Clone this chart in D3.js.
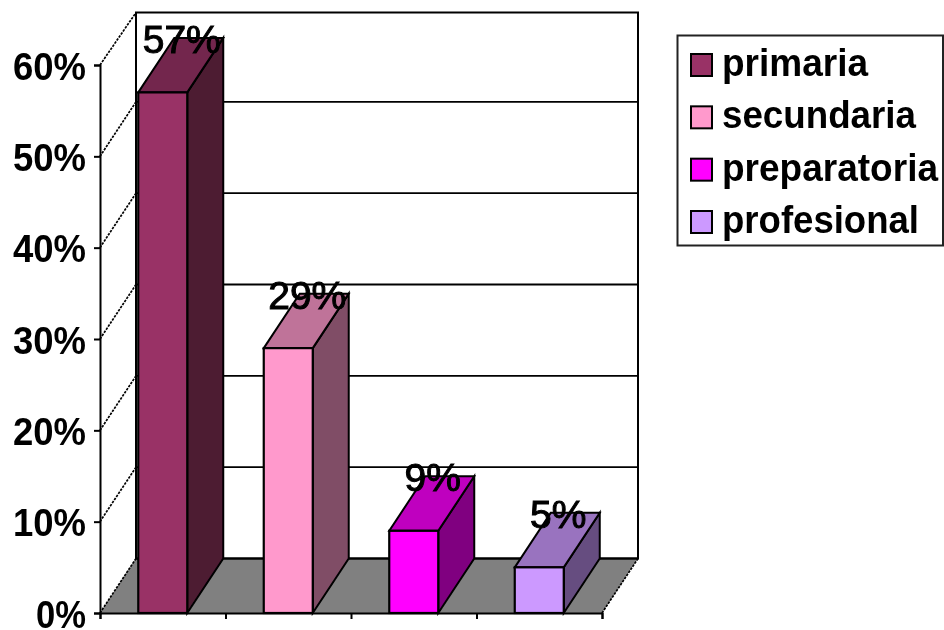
<!DOCTYPE html>
<html><head><meta charset="utf-8">
<script src="https://cdn.jsdelivr.net/npm/d3@7"></script>
<style>html,body{margin:0;padding:0;background:#fff}svg{display:block}text{font-family:"Liberation Sans",Arial,sans-serif;fill:#000}</style>
</head><body><svg id="c" width="944" height="630"></svg>
<script>
const categories = ["primaria","secundaria","preparatoria","profesional"];
const values = [57,29,9,5];
const colors = ["#993366","#FF99CC","#FF00FF","#CC99FF"];
const yTicks = [0,10,20,30,40,50,60];

const svg = d3.select("#c");
const defs = svg.append("defs");
defs.append("filter").attr("id","soft").attr("x",0).attr("y",0).attr("width",944).attr("height",630)
  .attr("filterUnits","userSpaceOnUse")
  .append("feGaussianBlur").attr("stdDeviation",0.6);
const g = svg.append("g").attr("filter","url(#soft)");

const x = d3.scaleBand().domain(categories).range([100,602]);
const y = d3.scaleLinear().domain([0,60]).range([613,65]);
const dx = 36, dy = -54.5, wallTop = 12.5;
const barW = 49;
const shade = (c,k)=>{const r=d3.rgb(c);return d3.rgb(r.r*k,r.g*k,r.b*k).formatHex();};
const poly = pts => pts.map(p=>p.join(",")).join(" ");

const x0 = x.range()[0], x1 = x.range()[1], yB = y(0), yT = y(60);
g.append("polygon").attr("points",poly([[x0,yB],[x0+dx,yB+dy],[x1+dx,yB+dy],[x1,yB]])).attr("fill","#808080");
g.append("rect").attr("x",x0+dx).attr("y",wallTop).attr("width",x1-x0).attr("height",yB+dy-wallTop)
  .attr("fill","#fff").attr("stroke","#000").attr("stroke-width",2);
g.selectAll(".grid").data(yTicks.slice(1,6)).join("line")
  .attr("x1",x0+dx).attr("x2",x1+dx).attr("y1",d=>y(d)+dy).attr("y2",d=>y(d)+dy)
  .attr("stroke","#000").attr("stroke-width",1.9);
g.selectAll(".diag").data(yTicks).join("line")
  .attr("x1",x0).attr("y1",d=>y(d)).attr("x2",x0+dx).attr("y2",d=>d===60?wallTop:y(d)+dy)
  .attr("stroke","#000").attr("stroke-width",1.7).attr("stroke-dasharray","2.5 1.2");
g.append("line").attr("x1",x1).attr("y1",yB).attr("x2",x1+dx).attr("y2",yB+dy)
  .attr("stroke","#000").attr("stroke-width",1.7).attr("stroke-dasharray","2.5 1.2");
g.append("line").attr("x1",x0+dx).attr("y1",yB+dy).attr("x2",x1+dx).attr("y2",yB+dy)
  .attr("stroke","#000").attr("stroke-width",2);

const yAxis = d3.axisLeft(y).tickValues(yTicks).tickSize(6).tickFormat(d=>d+"%");
const ya = g.append("g").attr("transform",`translate(${x0},0)`).call(yAxis);
ya.selectAll("path,line").attr("stroke","#000").attr("stroke-width",2);
ya.selectAll("text").attr("x",-14).attr("dy",0).attr("y",14)
  .attr("font-size",38).attr("font-weight","bold").attr("fill","#000")
  .attr("textLength",d=>d===0?50:73).attr("lengthAdjust","spacingAndGlyphs")
  .attr("font-family",'"Liberation Sans",Arial,sans-serif');
const xa = g.append("g").attr("transform",`translate(0,${yB})`)
  .call(d3.axisBottom(d3.scaleLinear().domain([0,4]).range([x0,x1])).tickValues([0,1,2,3,4]).tickSize(6).tickFormat(""));
xa.selectAll("path,line").attr("stroke","#000").attr("stroke-width",2);

const bars = g.selectAll(".bar").data(categories).join("g").attr("class","bar");
const bx = c => x(c)+(x.bandwidth()-barW)/2;
const val = i => y(values[i]);
bars.append("polygon").attr("points",(c,i)=>poly([[bx(c)+barW,yB],[bx(c)+barW+dx,yB+dy],[bx(c)+barW+dx,val(i)+dy],[bx(c)+barW,val(i)]]))
  .attr("fill",(c,i)=>shade(colors[i],.5)).attr("stroke","#000").attr("stroke-width",2);
bars.append("polygon").attr("points",(c,i)=>poly([[bx(c),val(i)],[bx(c)+dx,val(i)+dy],[bx(c)+barW+dx,val(i)+dy],[bx(c)+barW,val(i)]]))
  .attr("fill",(c,i)=>shade(colors[i],.75)).attr("stroke","#000").attr("stroke-width",2);
bars.append("rect").attr("x",bx).attr("y",(c,i)=>val(i)).attr("width",barW).attr("height",(c,i)=>yB-val(i))
  .attr("fill",(c,i)=>colors[i]).attr("stroke","#000").attr("stroke-width",2.2);
bars.append("text").attr("x",c=>bx(c)+barW/2+19).attr("y",(c,i)=>val(i)+dy+15)
  .attr("text-anchor","middle").attr("font-size",39).attr("stroke","#000").attr("stroke-width",1)
  .text((c,i)=>values[i]+"%");

const lg = g.append("g");
lg.append("rect").attr("x",677.5).attr("y",35.5).attr("width",265.5).attr("height",210)
  .attr("fill","#fff").attr("stroke","#222").attr("stroke-width",2);
const ly = d3.scalePoint().domain(categories).range([65,222]);
const items = lg.selectAll(".it").data(categories).join("g").attr("class","it");
items.append("rect").attr("x",691).attr("y",c=>ly(c)-11).attr("width",21).attr("height",22)
  .attr("fill",(c,i)=>colors[i]).attr("stroke","#000").attr("stroke-width",2);
items.append("text").attr("x",722).attr("y",c=>ly(c)+11).attr("font-size",38).attr("font-weight","bold")
  .attr("textLength",(c,i)=>[146,194,216,197][i]).attr("lengthAdjust","spacingAndGlyphs").text(c=>c);
</script></body></html>
